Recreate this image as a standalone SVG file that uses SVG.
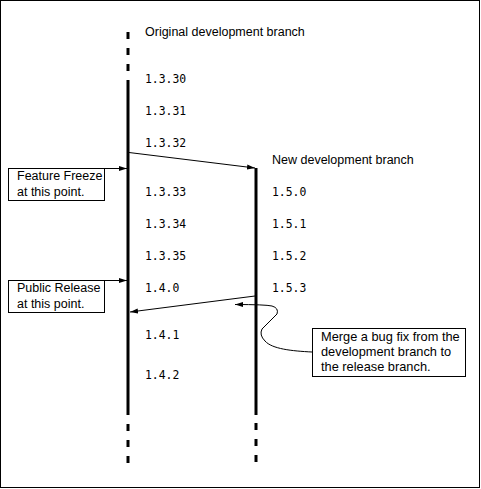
<svg xmlns="http://www.w3.org/2000/svg" width="481" height="489" viewBox="0 0 481 489">
<defs>
<style>
.t{font-family:"Liberation Sans",Arial,sans-serif;font-size:12.5px;fill:#000}
.m{font-family:"Liberation Sans",Arial,sans-serif;font-size:12.8px;fill:#000}
.v{font-family:"DejaVu Sans Mono","Liberation Mono",monospace;font-size:11.4px;fill:#000}
.br{stroke:#000;stroke-width:3;fill:none}
.dash{stroke:#000;stroke-width:3;fill:none;stroke-dasharray:7 9}
.c{stroke:#000;stroke-width:1;fill:none}
.box{fill:#fff;stroke:#000;stroke-width:1}
</style>
<marker id="ah" viewBox="0 0 8 6" refX="8" refY="3" markerWidth="8" markerHeight="6" markerUnits="userSpaceOnUse" orient="auto">
<path d="M0,0.5 L8,3 L0,5.5 Z" fill="#000"/>
</marker>
</defs>
<rect x="0.5" y="0.5" width="479" height="487" fill="#fff" stroke="#000" stroke-width="1"/>

<g id="original-branch">
<line class="dash" x1="128" y1="32" x2="128" y2="80"/>
<line class="br" x1="128" y1="80" x2="128" y2="415"/>
<line class="dash" x1="128" y1="424" x2="128" y2="472"/>
<text class="t" x="145" y="36">Original development branch</text>
<text class="v" x="145" y="83">1.3.30</text>
<text class="v" x="145" y="115">1.3.31</text>
<text class="v" x="145" y="147">1.3.32</text>
<text class="v" x="145" y="196">1.3.33</text>
<text class="v" x="145" y="228">1.3.34</text>
<text class="v" x="145" y="260">1.3.35</text>
<text class="v" x="145" y="292">1.4.0</text>
<text class="v" x="145" y="339">1.4.1</text>
<text class="v" x="145" y="379">1.4.2</text>
</g>

<g id="new-branch">
<line class="br" x1="256" y1="168" x2="256" y2="415"/>
<line class="dash" x1="256" y1="423" x2="256" y2="471"/>
<text class="t" x="272" y="164">New development branch</text>
<text class="v" x="272" y="196">1.5.0</text>
<text class="v" x="272" y="228">1.5.1</text>
<text class="v" x="272" y="260">1.5.2</text>
<text class="v" x="272" y="292">1.5.3</text>
</g>

<g id="feature-freeze">
<rect class="box" x="8.5" y="168.5" width="96" height="32"/>
<text class="t" x="17" y="180">Feature Freeze</text>
<text class="t" x="17" y="196">at this point.</text>
</g>

<g id="public-release">
<rect class="box" x="8.5" y="280.5" width="96" height="32"/>
<text class="t" x="17" y="292">Public Release</text>
<text class="t" x="17" y="308">at this point.</text>
</g>

<g id="merge-note">
<rect class="box" x="312.5" y="328.5" width="153" height="48"/>
<text class="m" x="321" y="341">Merge a bug fix from the</text>
<text class="m" x="321" y="356">development branch to</text>
<text class="m" x="321" y="371">the release branch.</text>
</g>

<g id="connectors">
<line class="c" x1="129" y1="152.5" x2="255" y2="168" marker-end="url(#ah)"/>
<line class="c" x1="104.5" y1="168.5" x2="127" y2="168.5" marker-end="url(#ah)"/>
<line class="c" x1="104.5" y1="280.5" x2="127" y2="280.5" marker-end="url(#ah)"/>
<line class="c" x1="255" y1="296" x2="130" y2="312" marker-end="url(#ah)"/>
<path class="c" d="M312,352 C292,351 272,349 265,341 Q259,335 262,329 L277,314 Q279,308 272,306 Q265,304.5 235,304.5" marker-end="url(#ah)"/>
</g>
</svg>
